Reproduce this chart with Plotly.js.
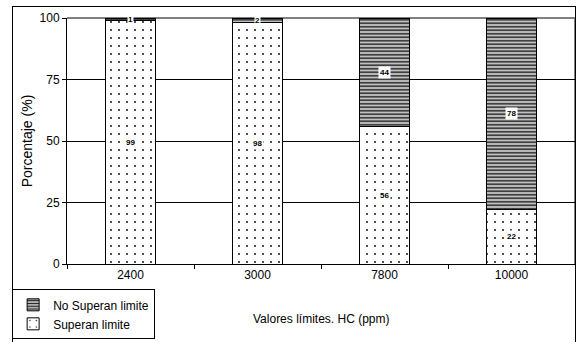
<!DOCTYPE html>
<html>
<head>
<meta charset="utf-8">
<script src="https://cdn.plot.ly/plotly-3.0.1.min.js"></script>
<style>
  html, body { margin: 0; padding: 0; background: #fff; }
  #wrap { position: relative; width: 578px; height: 342px; overflow: hidden; }
  #chart { width: 578px; height: 342px; }
  #frame { position: absolute; left: 12px; top: 6px; width: 562px; height: 400px;
           border: 1px solid #000; pointer-events: none; }
</style>
</head>
<body>
<div id="wrap">
  <div id="chart"></div>
  <div id="frame"></div>
</div>
<script>
// Valores límites de HC (ppm) y porcentaje de muestras
const categories = ['2400', '3000', '7800', '10000'];
const superan = [99, 98, 56, 22];
const noSuperan = [1, 2, 44, 78];
const yTicks = [0, 25, 50, 75, 100];
const xTitle = 'Valores límites. HC (ppm)';
const yTitle = 'Porcentaje (%)';

const barWidth = 0.39;

const traceSuperan = {
  type: 'bar',
  name: 'Superan limite',
  x: categories,
  y: superan,
  width: barWidth,
  marker: {
    color: '#ffffff',
    line: { color: '#000000', width: 1 },
    pattern: { shape: '.', fgcolor: '#000000', bgcolor: '#ffffff', size: 8, solidity: 0.04 }
  },
  hoverinfo: 'skip'
};

const traceNoSuperan = {
  type: 'bar',
  name: 'No Superan limite',
  x: categories,
  y: noSuperan,
  width: barWidth,
  marker: {
    color: '#b0b0b0',
    line: { color: '#000000', width: 1 },
    pattern: { shape: '-', fgcolor: '#202020', bgcolor: '#c0c0c0', size: 3.5, solidity: 0.4 }
  },
  hoverinfo: 'skip'
};

// Etiquetas de valor centradas en cada segmento (x = índice de categoría)
const labelFont = { family: '"Liberation Sans", Arial, sans-serif', size: 8, color: '#000' };
const annotations = [];
categories.forEach((c, i) => {
  annotations.push({
    x: i, y: superan[i] / 2, xref: 'x', yref: 'y',
    text: '<b>' + superan[i] + '</b>', showarrow: false,
    font: labelFont, bgcolor: '#ffffff', borderpad: 1
  });
  annotations.push({
    x: i, y: superan[i] + noSuperan[i] / 2, xref: 'x', yref: 'y',
    text: '<b>' + noSuperan[i] + '</b>', showarrow: false,
    font: labelFont, bgcolor: '#ffffff', borderpad: noSuperan[i] < 5 ? 0 : 1
  });
});

// Título del eje X colocado bajo las etiquetas de categoría
annotations.push({
  x: 0.5, y: -0.225, xref: 'paper', yref: 'paper',
  xanchor: 'center', yanchor: 'middle',
  text: xTitle, showarrow: false,
  font: { family: '"Liberation Sans", Arial, sans-serif', size: 12, color: '#000' }
});

const layout = {
  width: 578,
  height: 342,
  margin: { l: 67, r: 3, t: 18, b: 71 },
  paper_bgcolor: '#ffffff',
  plot_bgcolor: '#ffffff',
  barmode: 'stack',
  font: { family: '"Liberation Sans", Arial, sans-serif', size: 12, color: '#000' },
  xaxis: {
    type: 'category',
    range: [-0.5, categories.length - 0.5],
    automargin: false,
    showline: true, linecolor: '#000', linewidth: 1,
    ticks: 'outside', tickson: 'boundaries', ticklen: 4, tickcolor: '#000',
    showgrid: false,
    tickfont: { size: 12 }
  },
  yaxis: {
    range: [0, 100],
    automargin: false,
    tickvals: yTicks,
    ticktext: yTicks.map(String),
    showline: true, linecolor: '#000', linewidth: 1,
    ticks: 'outside', ticklen: 4, tickcolor: '#000',
    showgrid: true, gridcolor: '#000', gridwidth: 1,
    zeroline: false,
    tickfont: { size: 12 },
    title: { text: yTitle, font: { size: 14 }, standoff: 3 }
  },
  shapes: [
    { type: 'line', xref: 'paper', yref: 'paper', x0: 0, x1: 1, y0: 1, y1: 1,
      line: { color: '#808080', width: 2 }, layer: 'below' },
    { type: 'line', xref: 'paper', yref: 'paper', x0: 1, x1: 1, y0: 0, y1: 1,
      line: { color: '#808080', width: 2 }, layer: 'below' }
  ],
  annotations: annotations,
  showlegend: true,
  legend: {
    x: -0.108, xanchor: 'left',
    y: -0.103, yanchor: 'top',
    bgcolor: '#ffffff',
    bordercolor: '#000', borderwidth: 1,
    font: { size: 12 },
    itemwidth: 30,
    tracegroupgap: 0
  }
};

Plotly.newPlot('chart', [traceSuperan, traceNoSuperan], layout, { staticPlot: true, displayModeBar: false });
</script>
</body>
</html>
